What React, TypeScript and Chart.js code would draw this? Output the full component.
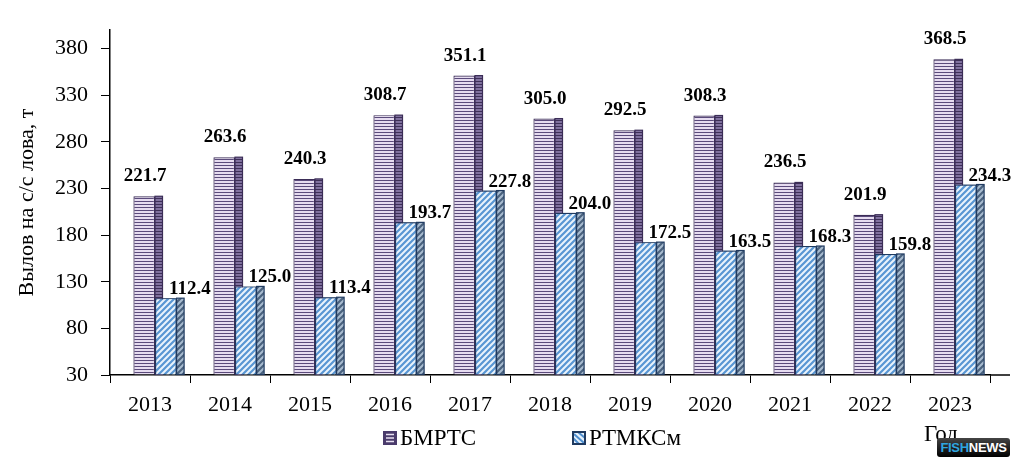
import { useEffect, useRef } from "react";
import { Chart, registerables } from "chart.js";

Chart.register(...registerables);

// data
const years = ["2013", "2014", "2015", "2016", "2017", "2018", "2019", "2020", "2021", "2022", "2023"];
const bmrtsValues = [221.7, 263.6, 240.3, 308.7, 351.1, 305.0, 292.5, 308.3, 236.5, 201.9, 368.5];
const rtmksmValues = [112.4, 125.0, 113.4, 193.7, 227.8, 204.0, 172.5, 163.5, 168.3, 159.8, 234.3];
const yTicks = [30, 80, 130, 180, 230, 280, 330, 380];
const seriesNames = ["БМРТС", "РТМКСм"];
const xAxisTitle = "Год";
const yAxisTitle = "Вылов на с/с лова, т";

const SERIF = '"Liberation Serif", "Times New Roman", serif';
const SIDE = 7.5; // depth of the fake 3d side
const SHIFT = 5; // bars sit a bit right of the category centre

function tile(w: number, h: number, draw: (g: CanvasRenderingContext2D) => void) {
  const c = document.createElement("canvas");
  c.width = w;
  c.height = h;
  draw(c.getContext("2d")!);
  return c;
}

function stripesH(base: string, line: string) {
  return tile(1, 3, (g) => {
    g.fillStyle = base;
    g.fillRect(0, 0, 1, 3);
    g.fillStyle = line;
    g.fillRect(0, 0, 1, 1);
  });
}

function stripesDiag(base: string, line: string) {
  return tile(6, 6, (g) => {
    g.fillStyle = base;
    g.fillRect(0, 0, 6, 6);
    g.strokeStyle = line;
    g.lineWidth = 2.2;
    g.beginPath();
    g.moveTo(-1, 1);
    g.lineTo(1, -1);
    g.moveTo(0, 6);
    g.lineTo(6, 0);
    g.moveTo(5, 7);
    g.lineTo(7, 5);
    g.stroke();
  });
}

const App = () => {
  const canvasRef = useRef<HTMLCanvasElement | null>(null);
  const chartRef = useRef<Chart | null>(null);

  useEffect(() => {
    if (!canvasRef.current) return;
    if (chartRef.current) chartRef.current.destroy();
    const ctx = canvasRef.current.getContext("2d")!;

    const pat = {
      purple: ctx.createPattern(stripesH("#e6dcf0", "#5a4a7b"), "repeat")!,
      purpleSide: ctx.createPattern(stripesH("#8172a0", "#3d2f57"), "repeat")!,
      blue: ctx.createPattern(stripesDiag("#e9f3fc", "#5896d3"), "repeat")!,
      blueSide: ctx.createPattern(stripesDiag("#a9bcd0", "#4a627e"), "repeat")!,
    };
    const borders = ["#3b2d57", "#1f3a60"];
    const sideFills = [pat.purpleSide, pat.blueSide];

    const drawSides = (chart: Chart, i: number) => {
      const c = chart.ctx;
      chart.getDatasetMeta(i).data.forEach((el: any) => {
        const { x, y, base, width } = el.getProps(["x", "y", "base", "width"], true);
        const right = x + width / 2;
        c.save();
        c.fillStyle = sideFills[i];
        c.fillRect(right, y, SIDE, base - y);
        c.strokeStyle = borders[i];
        c.lineWidth = 1.2;
        c.strokeRect(right, y, SIDE, base - y);
        c.restore();
      });
    };

    const barsPlugin = {
      id: "bars3d",
      beforeDatasetsDraw(chart: Chart) {
        chart.ctx.save();
        chart.ctx.translate(SHIFT, 0);
      },
      afterDatasetsDraw(chart: Chart) {
        const c = chart.ctx;
        // purple side, then the blue bar in front of it, then its own side
        drawSides(chart, 0);
        chart.getDatasetMeta(1).data.forEach((el: any) => el.draw(c));
        drawSides(chart, 1);

        c.fillStyle = "#000";
        c.font = `bold 19px ${SERIF}`;
        c.textAlign = "center";
        c.textBaseline = "alphabetic";
        chart.data.datasets.forEach((ds, i) => {
          chart.getDatasetMeta(i).data.forEach((el: any, j) => {
            const { x, y } = el.getProps(["x", "y"], true);
            const v = (ds.data[j] as number).toFixed(1);
            if (i === 0) c.fillText(v, x + 1, y - 15);
            else c.fillText(v, x + 24, y - 4);
          });
        });
        c.restore();
      },
    };

    const legendPlugin = {
      id: "legendAndTitle",
      afterDraw(chart: Chart) {
        const c = chart.ctx;
        const area = chart.chartArea;
        c.save();
        // x axis line runs a little past the last tick
        c.strokeStyle = "#000";
        c.lineWidth = 1.5;
        c.beginPath();
        c.moveTo(area.right, area.bottom);
        c.lineTo(area.right + 20, area.bottom);
        c.stroke();

        // purple swatch
        c.fillStyle = "#4a3b6b";
        c.fillRect(383, 431, 14, 14);
        c.fillStyle = "#e9e1f2";
        [434.5, 438, 441.5].forEach((yy) => c.fillRect(386, yy - 0.75, 8, 1.5));
        // blue swatch
        c.fillStyle = "#e6f1fb";
        c.fillRect(572, 431, 14, 14);
        c.strokeStyle = "#4f8fcf";
        c.lineWidth = 2;
        c.beginPath();
        c.moveTo(574, 434);
        c.lineTo(584, 443);
        c.moveTo(578, 432);
        c.lineTo(585, 438);
        c.moveTo(573, 438);
        c.lineTo(579, 444);
        c.stroke();
        c.strokeStyle = "#1f3a60";
        c.lineWidth = 2;
        c.strokeRect(573, 432, 12, 12);

        c.fillStyle = "#000";
        c.font = `23px ${SERIF}`;
        c.textBaseline = "middle";
        c.textAlign = "left";
        c.fillText(seriesNames[0], 400, 439);
        c.fillText(seriesNames[1], 589, 439);

        const xs = chart.scales.x;
        c.font = `23px ${SERIF}`;
        c.textAlign = "center";
        c.textBaseline = "alphabetic";
        c.fillText(xAxisTitle, xs.getPixelForValue(years.length - 1) - 9, 441);
        c.restore();
      },
    };

    chartRef.current = new Chart(canvasRef.current, {
      type: "bar",
      data: {
        labels: years,
        datasets: [
          {
            label: seriesNames[0],
            data: bmrtsValues,
            backgroundColor: pat.purple,
            borderColor: borders[0],
            borderWidth: 1.2,
            base: 30,
            categoryPercentage: 0.54,
            barPercentage: 1,
          },
          {
            label: seriesNames[1],
            data: rtmksmValues,
            backgroundColor: pat.blue,
            borderColor: borders[1],
            borderWidth: 1.2,
            base: 30,
            categoryPercentage: 0.54,
            barPercentage: 1,
          },
        ],
      },
      options: {
        responsive: true,
        maintainAspectRatio: false,
        animation: false,
        layout: { padding: { top: 30, right: 30, bottom: 42, left: 0 } },
        plugins: {
          legend: { display: false },
          tooltip: { enabled: false },
        },
        scales: {
          x: {
            offset: true,
            grid: {
              offset: true,
              drawOnChartArea: false,
              drawTicks: true,
              tickLength: 8,
              color: "#000",
              lineWidth: 1,
            },
            border: { display: true, color: "#000", width: 1.5 },
            ticks: {
              color: "#000",
              font: { family: SERIF, size: 22 },
              padding: 9,
              maxRotation: 0,
              autoSkip: false,
            },
            afterFit: (s: any) => {
              s.height = 50;
            },
          },
          y: {
            min: 30,
            max: 400,
            afterBuildTicks: (s: any) => {
              s.ticks = yTicks.map((v) => ({ value: v }));
            },
            grid: {
              drawOnChartArea: false,
              drawTicks: true,
              tickLength: 9,
              color: "#000",
              lineWidth: 1,
            },
            border: { display: true, color: "#000", width: 1.5 },
            ticks: {
              color: "#000",
              font: { family: SERIF, size: 22 },
              padding: 13,
            },
            title: {
              display: true,
              text: yAxisTitle,
              color: "#000",
              font: { family: SERIF, size: 22 },
              padding: { top: 14, bottom: 0 },
            },
            afterFit: (s: any) => {
              s.width = 110;
            },
          },
        },
      },
      plugins: [barsPlugin, legendPlugin],
    });

    return () => {
      if (chartRef.current) {
        chartRef.current.destroy();
        chartRef.current = null;
      }
    };
  }, []);

  return (
    <div
      style={{
        position: "fixed",
        left: 0,
        top: 0,
        width: 1020,
        height: 467,
        background: "#fff",
      }}
    >
      <canvas ref={canvasRef}></canvas>
      <div
        style={{
          position: "absolute",
          left: 937,
          top: 438,
          width: 73,
          height: 19,
          borderRadius: 3,
          background: "linear-gradient(#444, #000)",
          font: 'bold 13px "Liberation Sans", Arial, sans-serif',
          lineHeight: "19px",
          textAlign: "center",
          letterSpacing: "-0.3px",
        }}
      >
        <span style={{ color: "#2ea6e0" }}>FISH</span>
        <span style={{ color: "#fff" }}>NEWS</span>
      </div>
    </div>
  );
};

export default App;
